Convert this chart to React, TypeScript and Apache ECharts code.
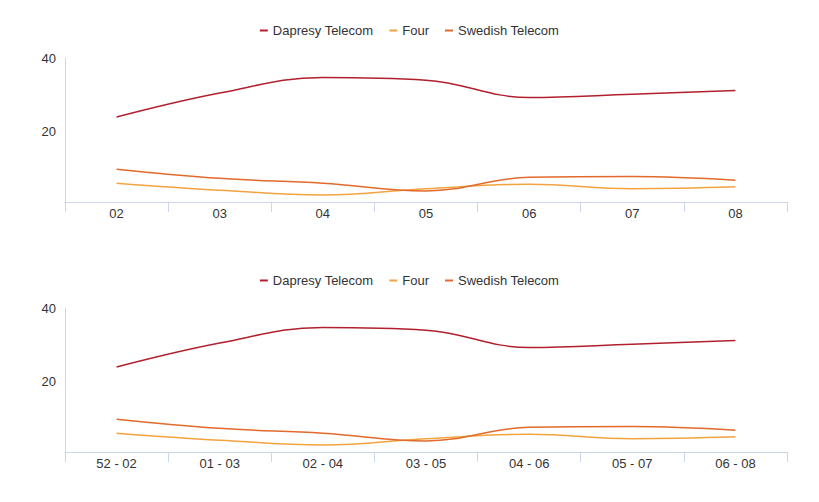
import React, { useEffect, useRef } from "react";
import * as echarts from "echarts";

const categoriesTop = ["02", "03", "04", "05", "06", "07", "08"];
const categoriesBottom = ["52 - 02", "01 - 03", "02 - 04", "03 - 05", "04 - 06", "05 - 07", "06 - 08"];
const dapresy = [24.0, 30.5, 34.7, 34.0, 29.3, 30.2, 31.2];
const four = [6.1, 4.2, 2.9, 4.6, 5.8, 4.6, 5.1];
const swedish = [9.9, 7.4, 6.1, 4.0, 7.7, 7.9, 6.9];
const yLabels = [20, 40];
const seriesNames = ["Dapresy Telecom", "Four", "Swedish Telecom"];
const colors = ["#b2202f", "#f3a33f", "#e26a2c"];

export default function App() {
  const ref = useRef<HTMLDivElement>(null);
  useEffect(() => {
    document.body.style.margin = "0";
    const chart = echarts.init(ref.current!, null, { renderer: "svg" });
    const axisColor = "#ccd6eb";
    const font = "Liberation Sans, Arial, sans-serif";
    const grids = [
      { left: 65, right: 32, top: 58, height: 144 },
      { left: 65, right: 32, top: 308, height: 144 },
    ];
    const xAxis = [categoriesTop, categoriesBottom].map((cats, i) => ({
      type: "category",
      gridIndex: i,
      data: cats,
      boundaryGap: true,
      axisLine: { lineStyle: { color: axisColor, width: 1 } },
      axisTick: { show: true, interval: 0, length: 10, lineStyle: { color: axisColor } },
      axisLabel: { color: "#333", fontSize: 13, fontFamily: font, margin: 5, interval: 0 },
      splitLine: { show: false },
    }));
    const yAxis = [0, 1].map((i) => ({
      type: "value",
      gridIndex: i,
      min: 1,
      max: 40,
      axisLine: { show: true, lineStyle: { color: axisColor, width: 1 } },
      axisTick: { show: false },
      splitLine: { show: false },
      axisLabel: {
        color: "#333",
        fontSize: 13,
        fontFamily: font,
        margin: 9,
        customValues: yLabels,
      },
    }));
    const dataSets = [dapresy, four, swedish];
    const series: any[] = [];
    [0, 1].forEach((g) => {
      dataSets.forEach((d, k) => {
        series.push({
          type: "line",
          name: seriesNames[k],
          xAxisIndex: g,
          yAxisIndex: g,
          data: d,
          smooth: 0.4,
          showSymbol: false,
          symbol: "none",
          lineStyle: { color: colors[k], width: 1.5 },
          itemStyle: { color: colors[k] },
        });
      });
    });
    const legend = [19, 269].map((top) => ({
      top,
      left: "center",
      data: seriesNames,
      icon: "rect",
      itemWidth: 8,
      itemHeight: 2,
      itemGap: 16,
      textStyle: { color: "#333", fontSize: 13, fontFamily: font },
    }));
    chart.setOption({
      animation: false,
      color: colors,
      grid: grids,
      xAxis,
      yAxis,
      legend,
      series,
    });
    return () => chart.dispose();
  }, []);
  return <div ref={ref} style={{ width: 819, height: 502 }} />;
}
